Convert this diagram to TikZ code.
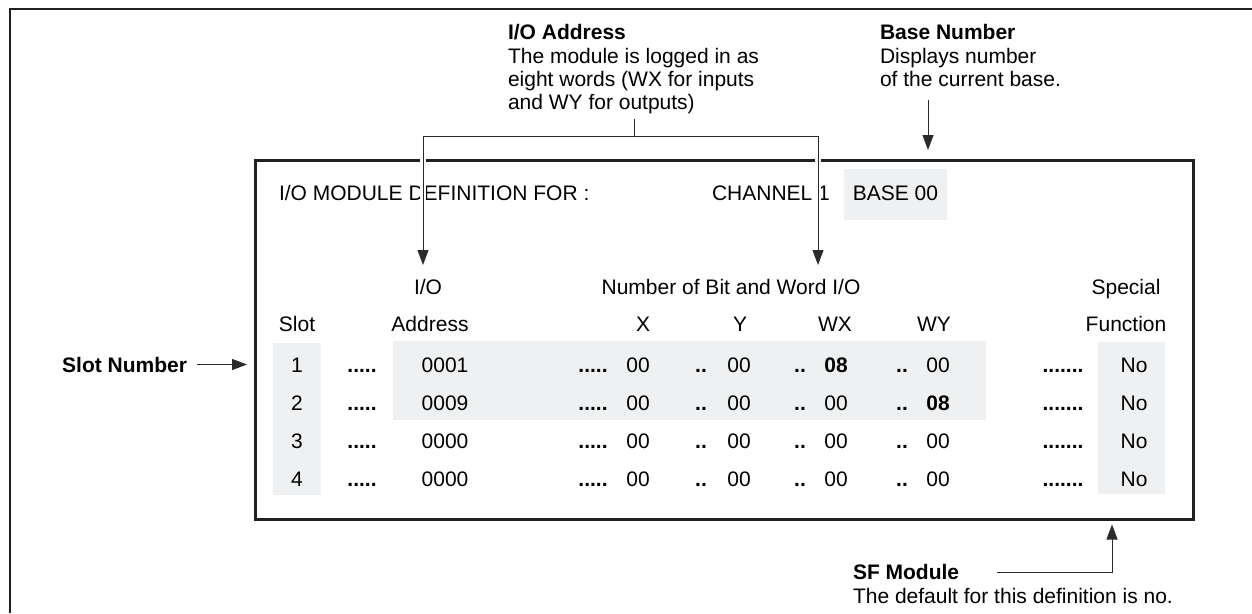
\documentclass[tikz,border=0pt]{standalone}
\usepackage{fontspec}
\setmainfont{Liberation Sans}
\usetikzlibrary{arrows.meta}
\definecolor{framec}{HTML}{231F20}
\definecolor{shade}{HTML}{EFF0F1}
\definecolor{linec}{HTML}{2A2A2A}
\tikzset{
  txt/.style={inner sep=0pt, outer sep=0pt, font=\fontsize{21}{23.3}\selectfont},
  lbl/.style={txt, align=left, anchor=north west},
  ctr/.style={txt, anchor=base},
  lft/.style={txt, anchor=base west},
  frame/.style={draw=framec, line width=2.5pt},
  shadebox/.style={fill=shade, draw=none},
  conn/.style={draw=linec, line width=1pt, -{Triangle[length=15pt,width=11pt]}},
  plain/.style={draw=linec, line width=1pt},
  halo/.style={draw=white, line width=6pt},
}
\begin{document}
\begin{tikzpicture}[x=1pt,y=-1pt]
\useasboundingbox (0,0) rectangle (1252,613);
% outer frame (open to the right and bottom)
\draw[frame] (10,613) -- (10,9) -- (1252,9);
% shaded fields
\fill[shadebox] (844,169) rectangle (947,220);
\fill[shadebox] (273,343) rectangle (321,495);
\fill[shadebox] (393,341) rectangle (986,420);
\fill[shadebox] (1098,342) rectangle (1165,494);
% screen box
\node[frame, minimum width=938pt, minimum height=359pt, anchor=north west] (box) at (254,159) {};
% header line
\node[lft] (hdr) at (279,200) {I/O MODULE DEFINITION FOR :};
\node[lft] (chan) at (712,200) {CHANNEL 1};
\node[ctr] (base) at (895.5,200) {BASE 00};
% column headings
\node[ctr] (hio) at (428,294) {I/O};
\node[ctr] (hnum) at (731,294) {Number of Bit and Word I/O};
\node[ctr] (hspec) at (1126,294) {Special};
\node[ctr] (hslot) at (297,331) {Slot};
\node[ctr] (haddr) at (430,331) {Address};
\node[ctr] (hx) at (643,331) {X};
\node[ctr] (hy) at (740,331) {Y};
\node[ctr] (hwx) at (835,331) {WX};
\node[ctr] (hwy) at (934,331) {WY};
\node[ctr] (hfun) at (1126,331) {Function};
% data rows
\foreach \r/\yy/\adr/\wx/\wy in {1/372/0001/\textbf{08}/00, 2/410/0009/00/\textbf{08}, 3/448/0000/00/00, 4/486/0000/00/00}{
  \node[ctr] (s\r) at (297,\yy) {\r};
  \node[ctr] (da\r) at (362,\yy) {\textbf{.....}};
  \node[ctr] (a\r) at (445,\yy) {\adr};
  \node[ctr] (db\r) at (593,\yy) {\textbf{.....}};
  \node[ctr] (x\r) at (638,\yy) {00};
  \node[ctr] (dc\r) at (701,\yy) {\textbf{..}};
  \node[ctr] (y\r) at (739,\yy) {00};
  \node[ctr] (dd\r) at (800,\yy) {\textbf{..}};
  \node[ctr] (wx\r) at (836,\yy) {\wx};
  \node[ctr] (de\r) at (902,\yy) {\textbf{..}};
  \node[ctr] (wy\r) at (938,\yy) {\wy};
  \node[ctr] (df\r) at (1063,\yy) {\textbf{.......}};
  \node[ctr] (sf\r) at (1134,\yy) {No};
}
% annotations
\node[lbl] (ioaddr) at (508,24.5) {\textbf{I/O Address}\\The module is logged in as\\eight words (WX for inputs\\and WY for outputs)};
\node[lbl] (bn) at (880,24.5) {\textbf{Base Number}\\Displays number\\of the current base.};
\node[txt, anchor=base east] (slotlbl) at (187,372) {\textbf{Slot Number}};
\node[lbl] (sfm) at (853,564.5) {\textbf{SF Module}\\The default for this definition is no.};
% I/O address bracket
\coordinate (stemtop) at (634,119);
\coordinate (stembot) at (634,136);
\coordinate (brL) at (423,136);
\coordinate (brR) at (818,136);
\coordinate (tipL) at (423,265);
\coordinate (tipR) at (818,265);
\draw[halo] (423,146) -- (423,255);
\draw[halo] (818,146) -- (818,255);
\draw[plain] (stemtop) -- (stembot);
\draw[conn] (brL) -- (tipL);
\draw[plain] (brL) -- (brR);
\draw[conn] (brR) -- (tipR);
% base number arrow
\coordinate (bnx) at (928,0);
\draw[conn, shorten <=13pt, shorten >=9pt] (bn.south -| bnx) -- (box.north -| bnx);
% slot number arrow
\draw[conn, shorten <=10pt, shorten >=7pt] (slotlbl.east) -- (slotlbl.east -| box.west);
% SF module arrow
\coordinate (sfa) at (997,572.5);
\coordinate (sfc) at (1112,572.5);
\draw[conn, shorten >=4pt] (sfa) -- (sfc) -- (sfc |- box.south);
\end{tikzpicture}
\end{document}
